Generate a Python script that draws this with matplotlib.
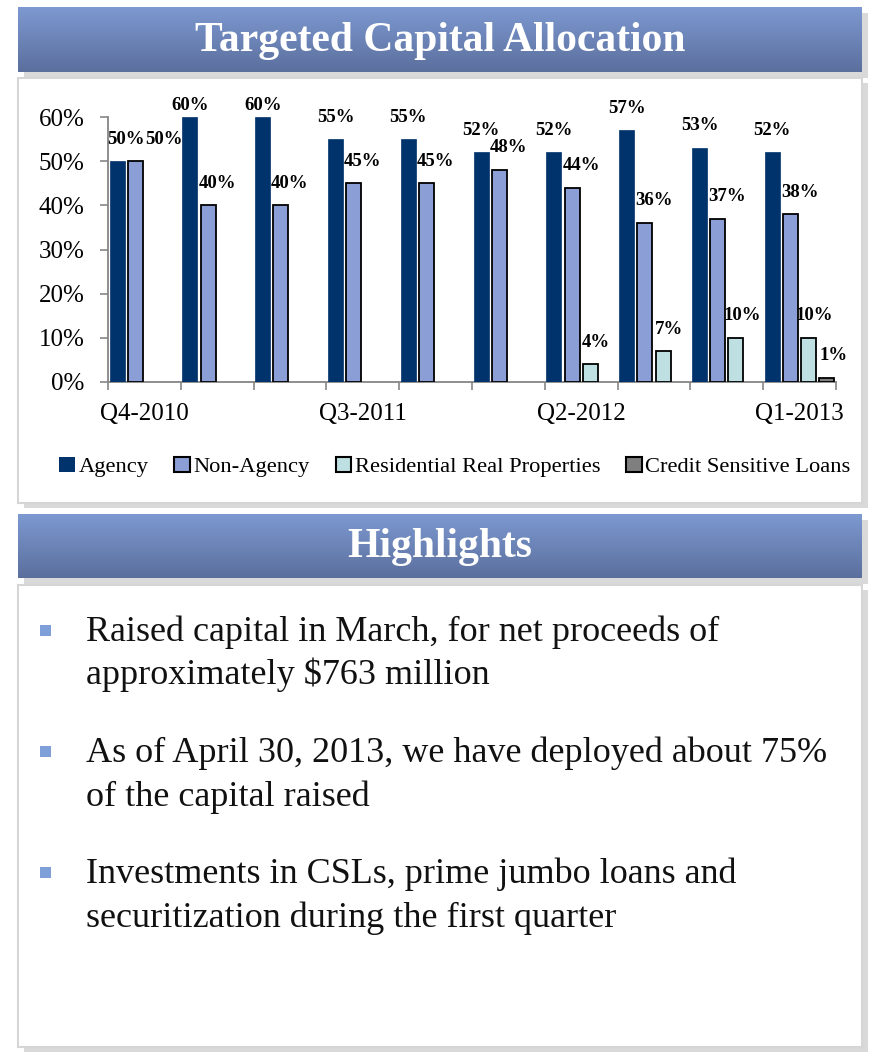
import numpy as np
import matplotlib
matplotlib.use("Agg")
import matplotlib.pyplot as plt
from matplotlib.patches import Rectangle, Patch
from matplotlib.colors import LinearSegmentedColormap

# ---------------- data ----------------
quarters = ["Q4-2010", "Q1-2011", "Q2-2011", "Q3-2011", "Q4-2011",
            "Q1-2012", "Q2-2012", "Q3-2012", "Q4-2012", "Q1-2013"]
series_names = ["Agency", "Non-Agency", "Residential Real Properties", "Credit Sensitive Loans"]
agency = [50, 60, 60, 55, 55, 52, 52, 57, 53, 52]
non_agency = [50, 40, 40, 45, 45, 48, 44, 36, 37, 38]
rrp = [0, 0, 0, 0, 0, 0, 4, 7, 10, 10]
csl = [0, 0, 0, 0, 0, 0, 0, 0, 0, 1]
yticks = [0, 10, 20, 30, 40, 50, 60]
shown_quarters = ["Q4-2010", "Q3-2011", "Q2-2012", "Q1-2013"]

title1 = "Targeted Capital Allocation"
title2 = "Highlights"
bullets = [
    ["Raised capital in March, for net proceeds of", "approximately $763 million"],
    ["As of April 30, 2013, we have deployed about 75%", "of the capital raised"],
    ["Investments in CSLs, prime jumbo loans and", "securitization during the first quarter"],
]

# ---------------- style ----------------
W, H = 870, 1053
FONT = "Liberation Serif"
plt.rcParams["font.family"] = [FONT, "DejaVu Serif"]
colors = ["#00336b", "#8b9fd6", "#bfe0e2", "#7f7f7f"]
edges = ["#00336b", "black", "black", "black"]
axis_gray = "#868686"

fig = plt.figure(figsize=(W / 100, H / 100), dpi=100)
fig.patch.set_facecolor("white")

# background / decoration axes in pixel coords
bg = fig.add_axes([0, 0, 1, 1], zorder=0)
bg.set_xlim(0, W)
bg.set_ylim(H, 0)
bg.axis("off")

shadow = "#d9d9d9"
grad = LinearSegmentedColormap.from_list("hdr", ["#7d99d1", "#5b6f9d"])
gvals = np.linspace(0, 1, 200).reshape(-1, 1)


def header(y0, y1, text):
    bg.add_patch(Rectangle((18 + 6, y0 + 6), 844, y1 - y0, facecolor=shadow, edgecolor="none", zorder=1))
    bg.imshow(gvals, cmap=grad, extent=(18, 862, y1, y0), origin="upper", aspect="auto", zorder=2)
    bg.text(440, (y0 + y1) / 2 + 1, text, color="white", fontsize=30, fontweight="bold",
            ha="center", va="center", zorder=3)


def panel(y0, y1):
    bg.add_patch(Rectangle((18 + 6, y0 + 5), 844, y1 - y0, facecolor=shadow, edgecolor="none", zorder=1))
    bg.add_patch(Rectangle((18, y0), 844, y1 - y0, facecolor="white", edgecolor="#d6d6d6",
                           linewidth=1.5, zorder=1.5))


panel(78, 503)
header(7, 72, title1)
panel(585, 1047)
header(514, 578, title2)

bg.set_xlim(0, W)
bg.set_ylim(H, 0)

# bullets
line_y = [[632, 675], [753, 797], [874, 918]]
for lines, ys in zip(bullets, line_y):
    bg.add_patch(Rectangle((40, ys[0] - 7), 11, 11, facecolor="#7f9fd8", edgecolor="none", zorder=3))
    for ln, yy in zip(lines, ys):
        bg.text(86, yy, ln, fontsize=26, ha="left", va="center", color="#111111", zorder=3)

# ---------------- chart ----------------
ax = fig.add_axes([108 / W, (H - 382) / H, (836 - 108) / W, (382 - 117) / H], zorder=2)
ax.patch.set_alpha(0)

x = np.arange(len(quarters))
offsets = [-0.375, -0.125, 0.125, 0.375]
bw = 0.205
data = [agency, non_agency, rrp, csl]
label_dx = [0, 9, 6, 7]  # pixels

for si, (vals, off) in enumerate(zip(data, offsets)):
    v = np.array(vals, dtype=float)
    mask = v > 0
    ax.bar(x[mask] + off, v[mask], width=bw, color=colors[si], edgecolor=edges[si],
           linewidth=1.3 if si else 0.5, zorder=3)
    for xi, val in zip(x[mask], v[mask]):
        dx = label_dx[si]
        if xi == 0 and si == 0:
            dx = 9
        if xi == 0 and si == 1:
            dx = 29
        ytxt = min(val + 5, 62.7)
        ax.annotate(f"{int(val)}%", xy=(xi + off, ytxt), xytext=(dx, 0), textcoords="offset pixels",
                    ha="center", va="center", fontsize=13.5, fontweight="bold", color="black",
                    annotation_clip=False, zorder=4)

ax.set_xlim(-0.5, len(quarters) - 0.5)
ax.set_ylim(0, 60)
ax.set_yticks(yticks)
ax.set_yticklabels([f"{t}%" for t in yticks])
shown_idx = [quarters.index(q) for q in shown_quarters]
ax.set_xticks(shown_idx)
ax.set_xticklabels(shown_quarters)
ax.set_xticks(np.arange(-0.5, len(quarters)), minor=True)
ax.tick_params(axis="x", which="major", length=0, pad=15, labelsize=18)
ax.tick_params(axis="x", which="minor", length=6, width=1.2, color=axis_gray, direction="out")
ax.tick_params(axis="y", which="major", length=6, width=1.2, color=axis_gray, pad=11, labelsize=18)
for s in ["top", "right"]:
    ax.spines[s].set_visible(False)
for s in ["left", "bottom"]:
    ax.spines[s].set_color(axis_gray)
    ax.spines[s].set_linewidth(1.3)

handles = [Patch(facecolor=colors[i], edgecolor=edges[i], linewidth=1.5 if i else 0) for i in range(4)]
fig.legend(handles, series_names, loc="center", bbox_to_anchor=(455 / W, 1 - 467 / H), ncol=4,
           frameon=False, fontsize=16.2, handlelength=0.7, handleheight=0.7, handletextpad=0.15,
           columnspacing=1.15, borderaxespad=0)

fig.savefig("out.png", dpi=100, facecolor="white")
